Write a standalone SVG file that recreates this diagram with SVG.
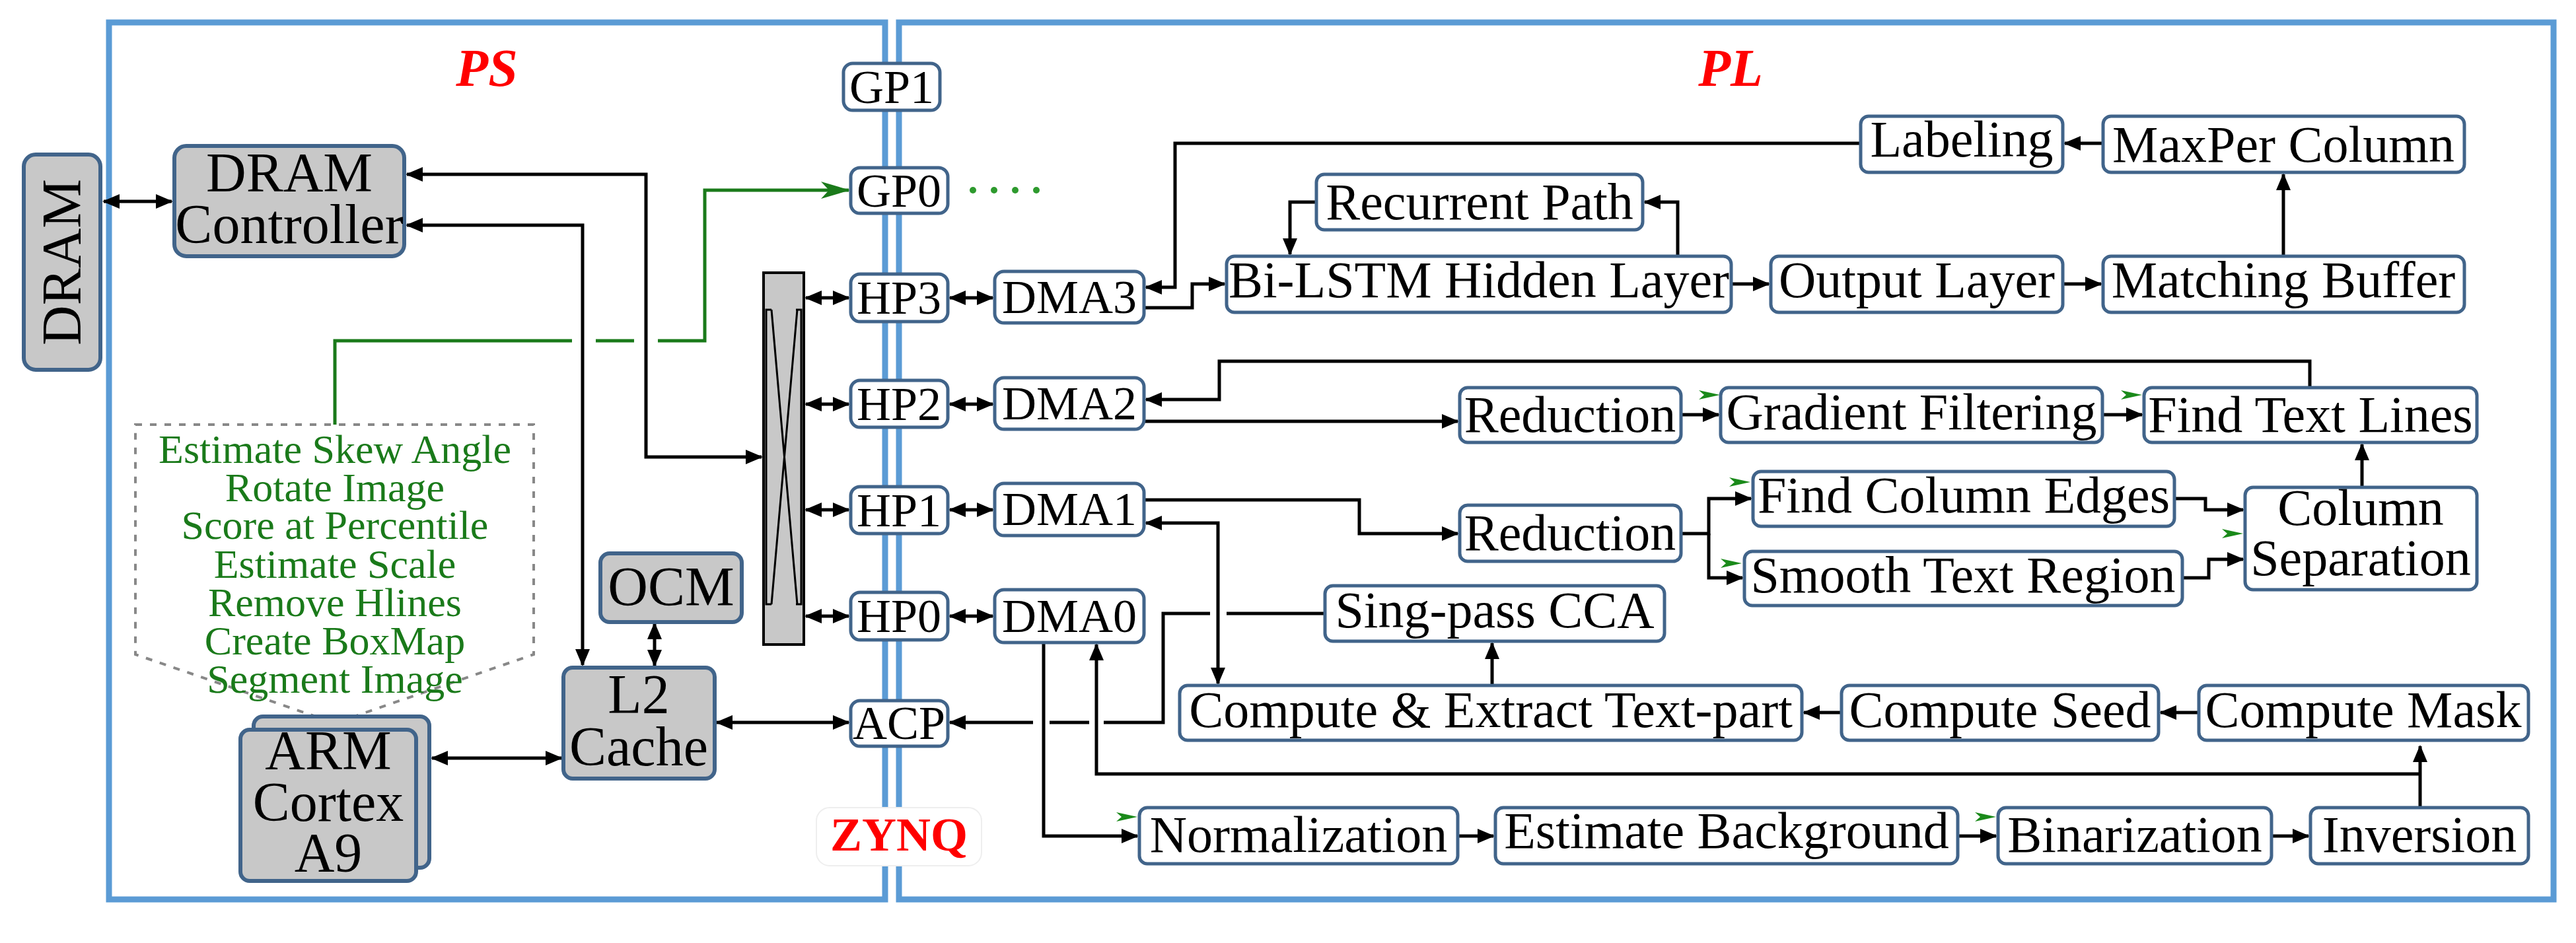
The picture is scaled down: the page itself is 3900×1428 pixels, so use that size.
<svg xmlns="http://www.w3.org/2000/svg" width="3900" height="1428" viewBox="0 0 3900 1428" font-family="'Liberation Serif','DejaVu Serif','Times New Roman',serif">
<defs>
<style>
text{font-family:'Liberation Serif','DejaVu Serif','Times New Roman',serif}
.fr{fill:none;stroke:#5b9bd5;stroke-width:9}
.g{fill:#c8c8c8;stroke:#41648a;stroke-width:6}
.w{fill:#fff;stroke:#41648a;stroke-width:5}
.t{font-size:78px;fill:#000;text-anchor:middle}
.tp{font-size:72px;fill:#000;text-anchor:middle}
.tg{font-size:84px;fill:#000;text-anchor:middle}
.gt{font-size:62px;fill:#1a7a1a;text-anchor:middle}
.red{font-weight:bold;fill:#ff0000;text-anchor:middle}
.c{fill:none;stroke:#000;stroke-width:5}
.cg{fill:none;stroke:#1a7a1a;stroke-width:5}
.gh{fill:#1a8a1a}
</style>
<marker id="a" markerUnits="userSpaceOnUse" markerWidth="26" markerHeight="22" refX="24" refY="11" orient="auto-start-reverse"><path d="M0,0 L26,11 L0,22 Z" fill="#000"/></marker>
<marker id="ag" markerUnits="userSpaceOnUse" markerWidth="44" markerHeight="26" refX="42" refY="13" orient="auto"><path d="M0,0 L44,13 L0,26 L12,13 Z" fill="#1a7a1a"/></marker>
</defs>
<rect width="3900" height="1428" fill="#fff"/>
<g id="frames">
<rect class="fr" x="165" y="34" width="1175" height="1328"/>
<rect class="fr" x="1361" y="34" width="2505" height="1328"/>
<text class="red" x="737" y="130" font-size="80" font-style="italic">PS</text>
<text class="red" x="2620" y="130" font-size="80" font-style="italic">PL</text>
</g>
<g id="connectors">
<path class="c" d="M157,305 H260" marker-start="url(#a)" marker-end="url(#a)"/>
<path class="c" d="M616,264 H978 V692 H1153" marker-start="url(#a)" marker-end="url(#a)"/>
<path class="c" d="M616,341 H882 V1007" marker-start="url(#a)" marker-end="url(#a)"/>
<path class="c" d="M991,944 V1008" marker-start="url(#a)" marker-end="url(#a)"/>
<path class="c" d="M654,1148 H850" marker-start="url(#a)" marker-end="url(#a)"/>
<path class="c" d="M1085,1094 H1285" marker-start="url(#a)" marker-end="url(#a)"/>
<path class="c" d="M1220,451 H1285" marker-start="url(#a)" marker-end="url(#a)"/>
<path class="c" d="M1220,612 H1285" marker-start="url(#a)" marker-end="url(#a)"/>
<path class="c" d="M1220,772 H1285" marker-start="url(#a)" marker-end="url(#a)"/>
<path class="c" d="M1220,933 H1285" marker-start="url(#a)" marker-end="url(#a)"/>
<path class="c" d="M1438,451 H1503" marker-start="url(#a)" marker-end="url(#a)"/>
<path class="c" d="M1438,612 H1503" marker-start="url(#a)" marker-end="url(#a)"/>
<path class="c" d="M1438,772 H1503" marker-start="url(#a)" marker-end="url(#a)"/>
<path class="c" d="M1438,933 H1503" marker-start="url(#a)" marker-end="url(#a)"/>
<path class="cg" d="M507,643 V516 H866 M902,516 H960 M996,516 H1067 V288 H1285" marker-end="url(#ag)"/>
<path class="c" d="M2817,217 H1779 V435 H1735" marker-end="url(#a)"/>
<path class="c" d="M1732,466 H1805 V430 H1854" marker-end="url(#a)"/>
<path class="c" d="M1993,306 H1953 V385" marker-end="url(#a)"/>
<path class="c" d="M2540,388 V306 H2490" marker-end="url(#a)"/>
<path class="c" d="M2621,430 H2678" marker-end="url(#a)"/>
<path class="c" d="M3123,430 H3181" marker-end="url(#a)"/>
<path class="c" d="M3457,388 V264" marker-end="url(#a)"/>
<path class="c" d="M3184,217 H3126" marker-end="url(#a)"/>
<path class="c" d="M3497,587 V547 H1846 V605 H1735" marker-end="url(#a)"/>
<path class="c" d="M1732,638 H2207" marker-end="url(#a)"/>
<path class="c" d="M2545,628 H2602" marker-end="url(#a)"/>
<path class="c" d="M3183,628 H3243" marker-end="url(#a)"/>
<path class="c" d="M1732,757 H2058 V808 H2207" marker-end="url(#a)"/>
<path class="c" d="M2545,808 H2587 V755 H2651" marker-end="url(#a)"/>
<path class="c" d="M2587,808 V875 H2638" marker-end="url(#a)"/>
<path class="c" d="M3292,755 H3339 V772 H3396" marker-end="url(#a)"/>
<path class="c" d="M3304,875 H3344 V847 H3396" marker-end="url(#a)"/>
<path class="c" d="M3576,738 V673" marker-end="url(#a)"/>
<path class="c" d="M1735,792 H1844 V1035" marker-start="url(#a)" marker-end="url(#a)"/>
<path class="c" d="M2006,929 H1857 M1832,929 H1761 V1094 H1671 M1649,1094 H1589 M1564,1094 H1438" marker-end="url(#a)"/>
<path class="c" d="M2259,1038 V974" marker-end="url(#a)"/>
<path class="c" d="M3329,1079 H3271" marker-end="url(#a)"/>
<path class="c" d="M2788,1079 H2731" marker-end="url(#a)"/>
<path class="c" d="M3664,1223 V1130" marker-end="url(#a)"/>
<path class="c" d="M3664,1172 H1660 V976" marker-end="url(#a)"/>
<path class="c" d="M1580,973 V1266 H1722" marker-end="url(#a)"/>
<path class="c" d="M2207,1266 H2261" marker-end="url(#a)"/>
<path class="c" d="M2964,1266 H3022" marker-end="url(#a)"/>
<path class="c" d="M3439,1266 H3495" marker-end="url(#a)"/>
<g class="gh">
<path d="M1690,1230 L1722,1237 L1690,1244 L1698,1237 Z"/>
<path d="M2572,591 L2604,598 L2572,605 L2580,598 Z"/>
<path d="M3211,591 L3243,598 L3211,605 L3219,598 Z"/>
<path d="M2618,723 L2650,730 L2618,737 L2626,730 Z"/>
<path d="M2605,846 L2637,853 L2605,860 L2613,853 Z"/>
<path d="M3364,801 L3396,808 L3364,815 L3372,808 Z"/>
<path d="M2990,1230 L3022,1237 L2990,1244 L2998,1237 Z"/>
</g>
<g fill="#2e9a2e"><circle cx="1473" cy="288" r="5"/><circle cx="1505" cy="288" r="5"/><circle cx="1537" cy="288" r="5"/><circle cx="1569" cy="288" r="5"/></g>
</g>
<g id="DRAM"><rect class="g" x="36" y="234" width="116" height="326" rx="18"/><text class="tg" transform="translate(122,397) rotate(-90)">DRAM</text></g>
<g id="DRAMController"><rect class="g" x="264" y="221" width="348" height="167" rx="18"/><text class="tg" x="438" y="290">DRAM</text><text class="tg" x="438" y="368">Controller</text></g>
<g id="tasks"><path d="M205,643 H808 V991 L507,1095 L205,991 Z" fill="none" stroke="#888" stroke-width="4" stroke-dasharray="10,12"/>
<text class="gt" x="507" y="701">Estimate Skew Angle</text><text class="gt" x="507" y="759">Rotate Image</text><text class="gt" x="507" y="816">Score at Percentile</text><text class="gt" x="507" y="875">Estimate Scale</text><text class="gt" x="507" y="933">Remove Hlines</text><text class="gt" x="507" y="991">Create BoxMap</text><text class="gt" x="507" y="1049">Segment Image</text></g>
<g id="OCM"><rect class="g" x="909" y="838" width="214" height="104" rx="14"/><text class="tg" x="1016" y="917">OCM</text></g>
<g id="L2"><rect class="g" x="853" y="1011" width="229" height="168" rx="14"/><text class="tg" x="967" y="1080">L2</text><text class="tg" x="967" y="1159">Cache</text></g>
<g id="ARM"><rect class="g" x="384" y="1085" width="266" height="229" rx="14"/><rect class="g" x="364" y="1105" width="266" height="229" rx="14"/><text class="tg" x="497" y="1165">ARM</text><text class="tg" x="497" y="1243">Cortex</text><text class="tg" x="497" y="1320">A9</text></g>
<g id="crossbar"><rect x="1156" y="413" width="61" height="563" fill="#c8c8c8" stroke="#000" stroke-width="4"/>
<path d="M1168,469 H1160 V915 H1168 M1205,469 H1213 V915 H1205 M1168,469 L1207,915 M1207,469 L1168,915" fill="none" stroke="#000" stroke-width="3"/></g>
<g id="ports">
<rect class="w" x="1277" y="96" width="146" height="71" rx="14"/><text class="tp" x="1350" y="156">GP1</text>
<rect class="w" x="1288" y="254" width="147" height="69" rx="14"/><text class="tp" x="1361" y="313">GP0</text>
<rect class="w" x="1288" y="415" width="147" height="72" rx="14"/><text class="tp" x="1361" y="475">HP3</text>
<rect class="w" x="1288" y="576" width="147" height="71" rx="14"/><text class="tp" x="1361" y="636">HP2</text>
<rect class="w" x="1288" y="737" width="147" height="71" rx="14"/><text class="tp" x="1361" y="797">HP1</text>
<rect class="w" x="1288" y="897" width="147" height="72" rx="14"/><text class="tp" x="1361" y="957">HP0</text>
<rect class="w" x="1288" y="1061" width="147" height="69" rx="14"/><text class="tp" x="1361" y="1119">ACP</text>
</g>
<g id="zynq"><rect x="1236" y="1223" width="250" height="88" rx="20" fill="#fff" stroke="#eee" stroke-width="2"/><text class="red" x="1361" y="1288" font-size="72">ZYNQ</text></g>
<g id="DMA">
<rect class="w" x="1506" y="411" width="226" height="78" rx="14"/><text class="tp" x="1619" y="474">DMA3</text>
<rect class="w" x="1506" y="572" width="226" height="78" rx="14"/><text class="tp" x="1619" y="635">DMA2</text>
<rect class="w" x="1506" y="732" width="226" height="79" rx="14"/><text class="tp" x="1619" y="795">DMA1</text>
<rect class="w" x="1506" y="893" width="226" height="80" rx="14"/><text class="tp" x="1619" y="957">DMA0</text>
</g>
<g id="Labeling"><rect class="w" x="2817" y="176" width="306" height="85" rx="12"/><text class="t" x="2970" y="237">Labeling</text></g>
<g id="MaxPer"><rect class="w" x="3184" y="176" width="547" height="85" rx="12"/><text class="t" x="3457" y="245">MaxPer Column</text></g>
<g id="Recurrent"><rect class="w" x="1993" y="264" width="494" height="84" rx="12"/><text class="t" x="2240" y="332">Recurrent Path</text></g>
<g id="BiLSTM"><rect class="w" x="1857" y="388" width="764" height="85" rx="12"/><text class="t" x="2239" y="450">Bi-LSTM Hidden Layer</text></g>
<g id="Output"><rect class="w" x="2681" y="388" width="442" height="85" rx="12"/><text class="t" x="2902" y="450">Output Layer</text></g>
<g id="Matching"><rect class="w" x="3184" y="388" width="547" height="85" rx="12"/><text class="t" x="3457" y="450">Matching Buffer</text></g>
<g id="Reduction1"><rect class="w" x="2210" y="587" width="335" height="83" rx="12"/><text class="t" x="2377" y="654">Reduction</text></g>
<g id="Gradient"><rect class="w" x="2605" y="587" width="578" height="83" rx="12"/><text class="t" x="2894" y="650">Gradient Filtering</text></g>
<g id="FindTextLines"><rect class="w" x="3246" y="587" width="504" height="83" rx="12"/><text class="t" x="3498" y="654">Find Text Lines</text></g>
<g id="Reduction2"><rect class="w" x="2210" y="765" width="335" height="85" rx="12"/><text class="t" x="2377" y="833">Reduction</text></g>
<g id="FCE"><rect class="w" x="2654" y="714" width="638" height="83" rx="12"/><text class="t" x="2973" y="776">Find Column Edges</text></g>
<g id="STR"><rect class="w" x="2641" y="835" width="663" height="82" rx="12"/><text class="t" x="2972" y="897">Smooth Text Region</text></g>
<g id="ColSep"><rect class="w" x="3399" y="738" width="351" height="155" rx="12"/><text class="t" x="3574" y="795">Column</text><text class="t" x="3574" y="871">Separation</text></g>
<g id="CCA"><rect class="w" x="2006" y="887" width="514" height="84" rx="12"/><text class="t" x="2263" y="950">Sing-pass CCA</text></g>
<g id="Extract"><rect class="w" x="1786" y="1038" width="942" height="83" rx="12"/><text class="t" x="2257" y="1101">Compute &amp; Extract Text-part</text></g>
<g id="Seed"><rect class="w" x="2788" y="1038" width="480" height="83" rx="12"/><text class="t" x="3028" y="1101">Compute Seed</text></g>
<g id="Mask"><rect class="w" x="3329" y="1038" width="499" height="83" rx="12"/><text class="t" x="3578" y="1101">Compute Mask</text></g>
<g id="Norm"><rect class="w" x="1725" y="1223" width="482" height="85" rx="12"/><text class="t" x="1966" y="1290">Normalization</text></g>
<g id="EstBg"><rect class="w" x="2264" y="1223" width="700" height="85" rx="12"/><text class="t" x="2614" y="1284">Estimate Background</text></g>
<g id="Bin"><rect class="w" x="3025" y="1223" width="414" height="85" rx="12"/><text class="t" x="3232" y="1290">Binarization</text></g>
<g id="Inv"><rect class="w" x="3498" y="1223" width="330" height="85" rx="12"/><text class="t" x="3663" y="1290">Inversion</text></g>
</svg>
